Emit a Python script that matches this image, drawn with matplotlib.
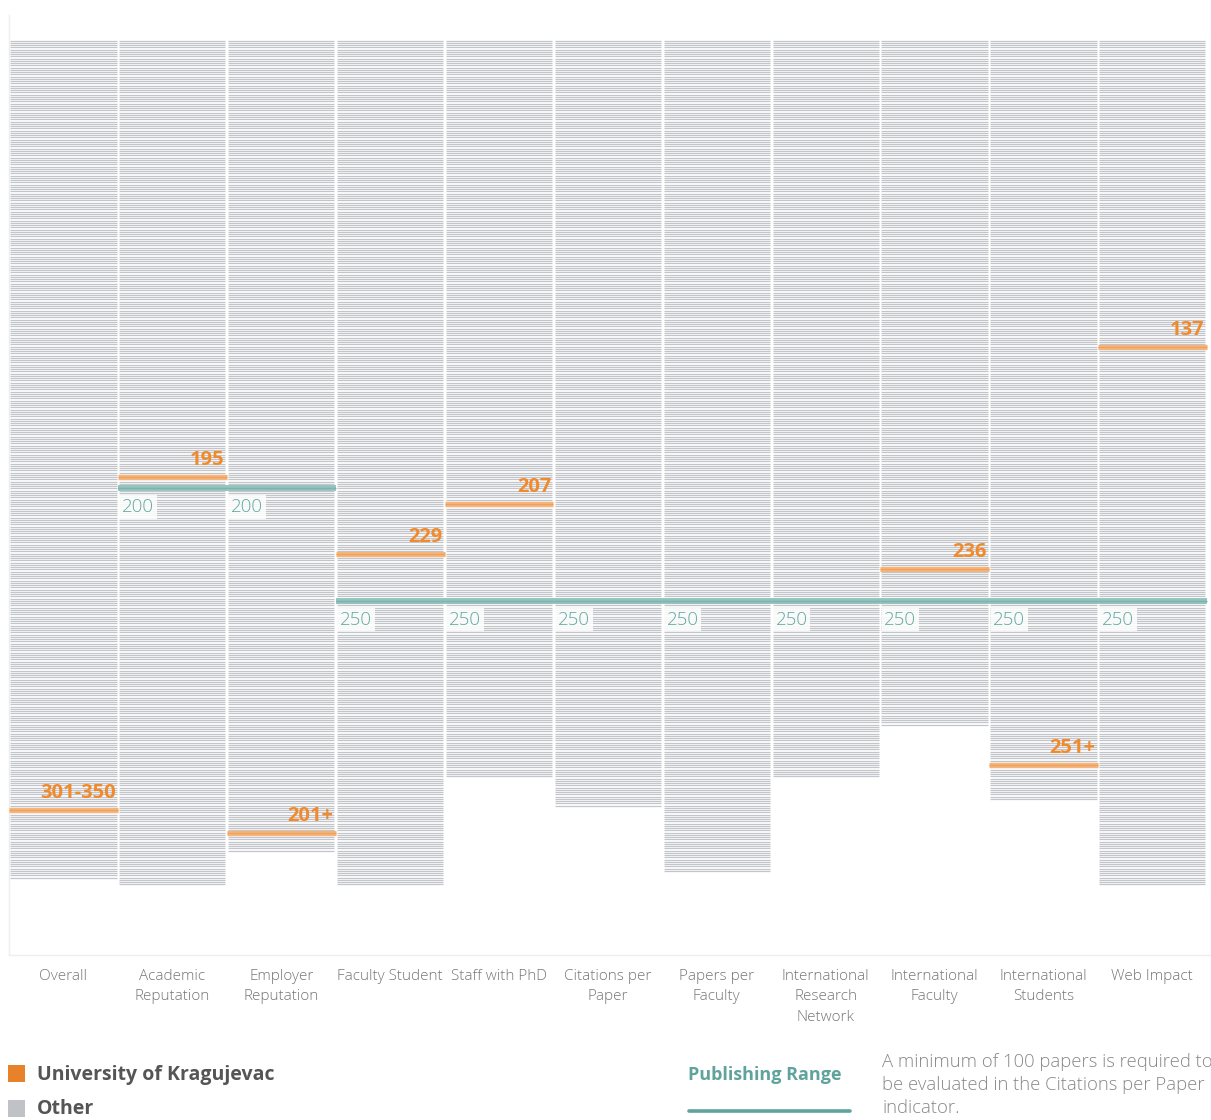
import numpy as np
import matplotlib
matplotlib.use("Agg")
import matplotlib.pyplot as plt

# ---- data ----
categories = ["Overall", "Academic\nReputation", "Employer\nReputation", "Faculty Student",
              "Staff with PhD", "Citations per\nPaper", "Papers per\nFaculty",
              "International\nResearch\nNetwork", "International\nFaculty",
              "International\nStudents", "Web Impact"]
ranked_counts = [373, 376, 361, 376, 328, 341, 370, 328, 305, 338, 376]
uni_rank_pos = [343, 195, 353, 229, 207, None, None, None, 236, 323, 137]
uni_rank_label = ["301-350", "195", "201+", "229", "207", None, None, None, "236", "251+", "137"]
publishing_range = [None, 200, 200, 250, 250, 250, 250, 250, 250, 250, 250]

ORANGE = "#f08a2c"
ORANGE_LINE = "#f4b47a"
TEAL = "#5fa39c"
TEAL_LINE = "#93c3bd"
GREY_LINE = "#c2c6ca"
TEXT_GREY = "#777777"

plt.rcParams['font.family'] = ['Open Sans', 'DejaVu Sans']

W, H = 1211, 1120
fig = plt.figure(figsize=(W / 100, H / 100), dpi=100)
# axes box in pixels: left 9, right 1211, top 15, bottom 955
ax = fig.add_axes([9 / W, (H - 955) / H, (1210 - 9) / W, (955 - 15) / H])

y0_px, px_per_rank = 38.3, 2.25
top_rank = (15 - y0_px) / px_per_rank
bot_rank = (955 - y0_px) / px_per_rank
ax.set_ylim(bot_rank, top_rank)
ax.set_xlim(0, 11.03)

pad = 0.012
for i, n in enumerate(ranked_counts):
    ranks = np.arange(1, n + 1)
    ax.hlines(ranks, i + pad, i + 1 - pad, color=GREY_LINE, lw=0.9, zorder=1)

# publishing range lines
for i, pr in enumerate(publishing_range):
    if pr is None:
        continue
    ax.hlines(pr, i, i + 1, color=TEAL_LINE, lw=4.2, zorder=3)
    ax.hlines(pr, i, i + 1, color="#7db3ac", lw=1.0, zorder=3)
    ax.annotate(str(pr), xy=(i + 0.04, pr), xytext=(0, -7), textcoords="offset points",
                ha="left", va="top", fontsize=13.5, color="#62a8a0", fontweight="light",
                zorder=4,
                bbox=dict(boxstyle="square,pad=0.15", facecolor="white", edgecolor="none", alpha=0.85))

# university lines
for i, (pos, lab) in enumerate(zip(uni_rank_pos, uni_rank_label)):
    if pos is None:
        continue
    ax.hlines(pos, i, i + 1, color=ORANGE_LINE, lw=3.8, zorder=5)
    ax.hlines(pos, i, i + 1, color="#f0a05a", lw=0.8, zorder=5)
    ax.annotate(lab, xy=(i + 1 - 0.02, pos), xytext=(0, 5), textcoords="offset points",
                ha="right", va="bottom", fontsize=14.5, color=ORANGE, fontweight="bold",
                zorder=6)

ax.set_xticks(np.arange(len(categories)) + 0.5)
ax.set_xticklabels(categories, fontsize=11, color=TEXT_GREY, fontweight="light",
                   linespacing=1.5, va="top")
ax.tick_params(axis="x", length=0, pad=10)
ax.set_yticks([])
for s in ["top", "right"]:
    ax.spines[s].set_visible(False)
for s in ["left", "bottom"]:
    ax.spines[s].set_color("#eeeeee")
    ax.spines[s].set_linewidth(1.0)

# legend
def px(x, y):
    return x / W, 1 - y / H

fig.patches.append(plt.Rectangle(px(8, 1082), 17 / W, 17 / H, transform=fig.transFigure,
                                  facecolor="#e8822a", edgecolor="none"))
fig.patches.append(plt.Rectangle(px(8, 1117), 17 / W, 17 / H, transform=fig.transFigure,
                                  facecolor="#bfc3c7", edgecolor="none"))
fig.text(*px(37, 1075), "University of Kragujevac", fontsize=14, fontweight="bold",
         color="#555555", va="center", ha="left")
fig.text(*px(37, 1109), "Other", fontsize=14, fontweight="bold",
         color="#555555", va="center", ha="left")

fig.text(*px(765, 1075), "Publishing Range", fontsize=13, fontweight="bold",
         color=TEAL, va="center", ha="center")
fig.add_artist(plt.Line2D([689 / W, 850 / W], [1 - 1111 / H, 1 - 1111 / H],
                          color=TEAL, lw=2.6, solid_capstyle="round"))

fig.text(*px(882, 1053), "A minimum of 100 papers is required to\nbe evaluated in the Citations per Paper\nindicator.",
         fontsize=13.3, fontweight="light", color="#888888", va="top", ha="left",
         linespacing=1.37)

fig.savefig("out.png", dpi=100)
